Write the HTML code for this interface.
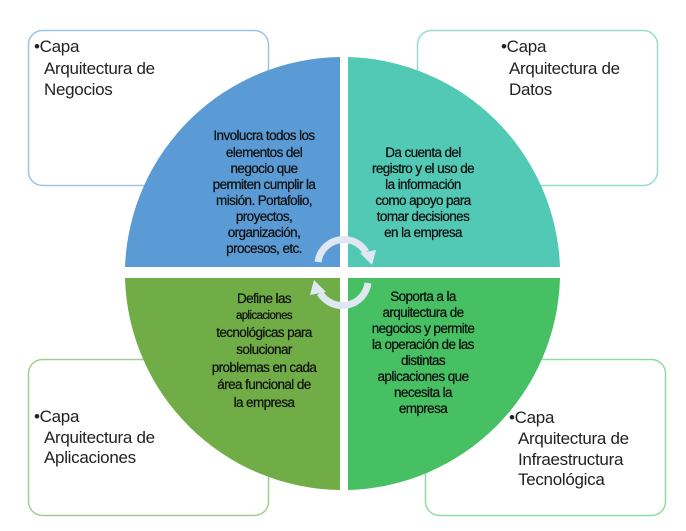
<!DOCTYPE html>
<html><head><meta charset="utf-8"><style>
body{margin:0;width:686px;height:531px;background:#fff;overflow:hidden;}
svg{position:absolute;left:0;top:0}
.b{font-family:"Liberation Sans",Arial,sans-serif;font-size:17px;fill:#222;letter-spacing:-0.3px}
.c{font-family:"Liberation Sans",Arial,sans-serif;font-size:13.5px;fill:#111;stroke:#111;stroke-width:0.25;text-anchor:middle;letter-spacing:-0.6px}
</style></head><body>
<svg width="686" height="531" viewBox="0 0 686 531">
<rect x="28.5" y="30.5" width="240" height="155" rx="14" fill="#fff" stroke="#9cc2e8" stroke-width="1.5"/>
<rect x="417.5" y="30.5" width="240" height="155" rx="14" fill="#fff" stroke="#96ddd0" stroke-width="1.5"/>
<rect x="28.5" y="359.5" width="240" height="156" rx="14" fill="#fff" stroke="#a5cd8c" stroke-width="1.5"/>
<rect x="425.5" y="359.5" width="240" height="156" rx="14" fill="#fff" stroke="#90d9a0" stroke-width="1.5"/>
<path d="M340,267 L340,57 A218,218 0 0 0 125,267 Z" fill="#5b9bd5"/>
<path d="M348,267 L348,57 A218,218 0 0 1 560,267 Z" fill="#52c9b5"/>
<path d="M340,278 L125,278 A218,218 0 0 0 340,490 Z" fill="#70ad47"/>
<path d="M348,278 L560,278 A218,218 0 0 1 348,490 Z" fill="#47c064"/>
<g fill="none" stroke="#dfe8f2" stroke-width="7">
<path d="M318,262 A26,26 0 0 1 366,252"/>
<path d="M368,283 A26,26 0 0 1 320,293"/>
</g>
<polygon points="360,253 376,250 372,265" fill="#dfe8f2"/>
<polygon points="326,292 310,295 314,280" fill="#dfe8f2"/>
<text class="b" x="34" y="52">•Capa</text>
<text class="b" x="44" y="74">Arquitectura de</text>
<text class="b" x="44" y="95">Negocios</text>
<text class="b" x="501" y="52">•Capa</text>
<text class="b" x="509" y="74">Arquitectura de</text>
<text class="b" x="509" y="95">Datos</text>
<text class="b" x="34" y="422">•Capa</text>
<text class="b" x="44" y="443">Arquitectura de</text>
<text class="b" x="44" y="463">Aplicaciones</text>
<text class="b" x="509" y="423">•Capa</text>
<text class="b" x="518" y="444">Arquitectura de</text>
<text class="b" x="518" y="465">Infraestructura</text>
<text class="b" x="518" y="485">Tecnológica</text>
<g class="c">
<text x="264" y="140">Involucra todos los</text>
<text x="264" y="157">elementos del</text>
<text x="264" y="173">negocio que</text>
<text x="264" y="189">permiten cumplir la</text>
<text x="264" y="205">misión.  Portafolio,</text>
<text x="264" y="221">proyectos,</text>
<text x="264" y="237">organización,</text>
<text x="264" y="253">procesos, etc.</text>
<text x="423" y="157">Da cuenta del</text>
<text x="423" y="173">registro y el uso de</text>
<text x="423" y="189">la información</text>
<text x="423" y="205">como apoyo para</text>
<text x="423" y="221">tomar decisiones</text>
<text x="423" y="237">en la empresa</text>
<text x="264" y="303">Define las</text>
<text x="264" y="319" style="font-size:11.5px">aplicaciones</text>
<text x="264" y="337">tecnológicas para</text>
<text x="264" y="354">solucionar</text>
<text x="264" y="372">problemas en cada</text>
<text x="264" y="389">área funcional de</text>
<text x="264" y="407">la empresa</text>
<text x="423" y="301">Soporta a la</text>
<text x="423" y="317">arquitectura de</text>
<text x="423" y="333">negocios y permite</text>
<text x="423" y="349">la operación de las</text>
<text x="423" y="365">distintas</text>
<text x="423" y="381">aplicaciones que</text>
<text x="423" y="397">necesita la</text>
<text x="423" y="413">empresa</text>
</g>
</svg>
</body></html>
